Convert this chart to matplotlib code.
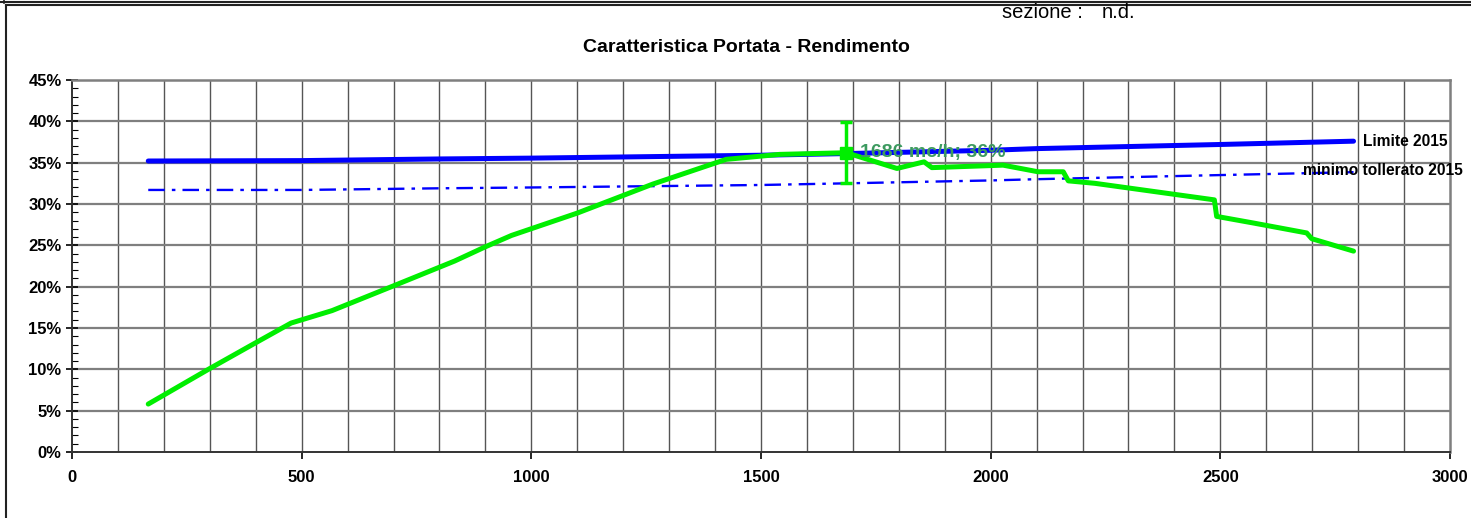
import numpy as np
import matplotlib.pyplot as plt
from matplotlib.ticker import MultipleLocator, FuncFormatter
from matplotlib.lines import Line2D

plt.rcParams['font.family'] = ['Liberation Sans', 'DejaVu Sans']

# curva portata - rendimento (mc/h, %)
portata = [166, 300, 393, 477, 566, 700, 833, 899, 957, 1100, 1264, 1424, 1540,
           1686, 1796, 1855, 1872, 2027, 2103, 2158, 2169, 2227, 2487, 2492,
           2572, 2688, 2699, 2790]
rendimento = [5.8, 10.1, 13.0, 15.6, 17.1, 20.1, 23.1, 24.8, 26.2, 28.9, 32.4,
              35.4, 36.0, 36.2, 34.3, 35.1, 34.4, 34.7, 33.9, 33.9, 32.8, 32.5,
              30.5, 28.5, 27.7, 26.5, 25.8, 24.3]

# limiti
portata_lim = [166, 500, 800, 1000, 1500, 1686, 2000, 2100, 2500, 2790]
limite_2015 = [35.2, 35.25, 35.45, 35.55, 35.9, 36.1, 36.5, 36.7, 37.2, 37.6]
minimo_2015 = [31.7, 31.7, 31.9, 32.0, 32.3, 32.5, 32.85, 33.0, 33.5, 33.85]

# punto di lavoro
q_lavoro = 1686
eta_lavoro = 36.2
err_basso = 3.7
err_alto = 3.7

fig = plt.figure(figsize=(14.71, 5.18), dpi=100)
ax = fig.add_axes([72 / 1471, 1 - 452 / 518, 1378 / 1471, 372 / 518])

grigio = '#7f7f7f'
ax.set_xlim(0, 3000)
ax.set_ylim(0, 45)
ax.xaxis.set_major_locator(MultipleLocator(500))
ax.xaxis.set_minor_locator(MultipleLocator(100))
ax.yaxis.set_major_locator(MultipleLocator(5))
ax.yaxis.set_minor_locator(MultipleLocator(1))
ax.yaxis.set_major_formatter(FuncFormatter(lambda v, p: '%d%%' % v))

# griglia verticale ogni 100, orizzontale ogni 5%
for xv in np.arange(100, 3000, 100):
    ax.axvline(xv, color='#555555', lw=1.0, zorder=0)
for yv in np.arange(5, 45, 5):
    ax.axhline(yv, color=grigio, lw=1.6, zorder=0)

for s in ['top', 'right']:
    ax.spines[s].set_color(grigio)
    ax.spines[s].set_linewidth(1.8)
for s in ['left', 'bottom']:
    ax.spines[s].set_color('#333333')
    ax.spines[s].set_linewidth(1.4)

ax.tick_params(axis='x', which='major', direction='out', length=5, width=1.2,
               pad=8, labelsize=12)
ax.tick_params(axis='x', which='minor', length=0)
ax.tick_params(axis='y', which='major', direction='inout', length=9, width=1.2,
               pad=3, labelsize=12)
ax.tick_params(axis='y', which='minor', direction='in', length=4, width=0.8)
for lab in ax.get_xticklabels() + ax.get_yticklabels():
    lab.set_fontweight('bold')

ax.plot(portata_lim, limite_2015, color='#0000ff', lw=3.6, solid_capstyle='round', zorder=3)
ax.plot(portata_lim, minimo_2015, color='#0000ff', lw=1.7,
        linestyle=(0, (7, 3, 1.5, 3)), zorder=3)
ax.plot(portata, rendimento, color='#00ee00', lw=3.6, solid_capstyle='round',
        solid_joinstyle='round', zorder=4)

ax.errorbar([q_lavoro], [eta_lavoro], yerr=[[err_basso], [err_alto]], fmt='s',
            color='#00ee00', ms=8, elinewidth=2.5, capsize=4.5, capthick=2.5, zorder=5)
ax.text(q_lavoro + 30, eta_lavoro, '1686 mc/h; 36%', color='#3c9a5f',
        fontsize=14, fontweight='bold', va='center', ha='left', zorder=6)

ax.text(2810, limite_2015[-1], 'Limite 2015', fontsize=11.2, fontweight='bold',
        va='center', ha='left', clip_on=False)
ax.text(2680, minimo_2015[-1] + 0.2, 'minimo tollerato 2015', fontsize=11.2,
        fontweight='bold', va='center', ha='left', clip_on=False, zorder=6)

fig.text(746 / 1471, 1 - 47 / 518, 'Caratteristica Portata - Rendimento',
         fontsize=14, fontweight='bold', ha='center', va='center')
fig.text(1002 / 1471, 1 - 12 / 518, 'sezione :', fontsize=14.5, ha='left', va='center')
fig.text(1102 / 1471, 1 - 12 / 518, 'n.d.', fontsize=14.5, ha='left', va='center')

# cornice
fig.add_artist(Line2D([0, 1], [1 - 1.5 / 518, 1 - 1.5 / 518], color='#222222', lw=1.5))
fig.add_artist(Line2D([6 / 1471, 1], [1 - 5 / 518, 1 - 5 / 518], color='#222222', lw=1.5))
fig.add_artist(Line2D([6 / 1471, 6 / 1471], [0, 1 - 5 / 518], color='#222222', lw=1.5))
fig.add_artist(Line2D([4 / 1471, 4 / 1471], [1 - 3 / 518, 1], color='#222222', lw=1.2))

fig.savefig('out.png', dpi=100)
